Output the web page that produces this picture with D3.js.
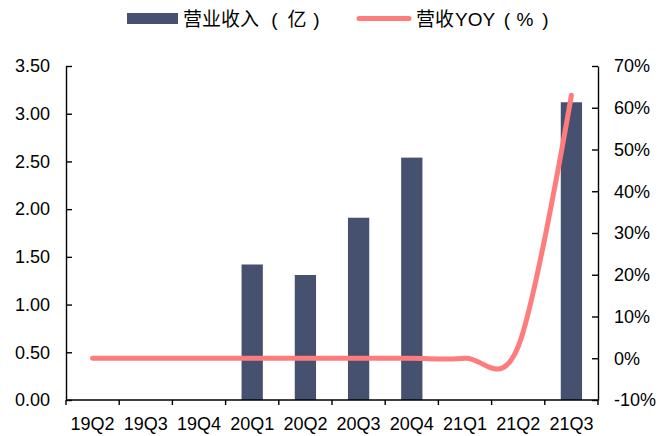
<!DOCTYPE html>
<html>
<head>
<meta charset="utf-8">
<script src="https://cdn.jsdelivr.net/npm/d3@7/dist/d3.min.js"></script>
<style>
  html, body { margin: 0; padding: 0; background: #fff; }
  svg { display: block; }
</style>
</head>
<body>
<svg id="chart" width="665" height="436"></svg>
<script>
// Quarterly revenue (100 million) and YoY growth (%)
const quarters = ["19Q2", "19Q3", "19Q4", "20Q1", "20Q2", "20Q3", "20Q4", "21Q1", "21Q2", "21Q3"];
const revenue = [null, null, null, 1.42, 1.31, 1.91, 2.54, null, null, 3.12];
const yoy = [0, 0, 0, 0, 0, 0, 0, 0, 2.8, 63];
const leftTicks = [0, 0.5, 1, 1.5, 2, 2.5, 3, 3.5];
const rightTicks = [-10, 0, 10, 20, 30, 40, 50, 60, 70];

const barColor = "#465170";
const lineColor = "#FF7C7C";
const fontFamily = '"Liberation Sans", Arial, sans-serif';
const cjkFont = '"Noto Sans CJK SC", "Liberation Sans", sans-serif';

const svg = d3.select("#chart");
const margin = { left: 66, right: 598, top: 66, bottom: 400 };

const x = d3.scaleBand().domain(quarters).range([margin.left, margin.right]).padding(0);
const yL = d3.scaleLinear().domain([0, 3.5]).range([margin.bottom, margin.top]);
const yR = d3.scaleLinear().domain([-10, 70]).range([margin.bottom, margin.top]);

// Bars
const barW = x.bandwidth() * 0.4;
svg.append("g").selectAll("rect")
  .data(quarters.map((q, i) => ({ q, v: revenue[i] })).filter(d => d.v != null))
  .join("rect")
  .attr("x", d => x(d.q) + (x.bandwidth() - barW) / 2)
  .attr("y", d => yL(d.v))
  .attr("width", barW)
  .attr("height", d => yL(0) - yL(d.v))
  .attr("fill", barColor);

// Axes
const axisStyle = g => {
  g.selectAll("path.domain").attr("stroke", "#000").attr("stroke-width", 1.4);
  g.selectAll(".tick line").attr("stroke", "#000").attr("stroke-width", 1.4);
  g.selectAll(".tick text").attr("fill", "#000").attr("font-size", 18).attr("font-family", fontFamily);
};

svg.append("g")
  .attr("transform", `translate(${margin.left},0)`)
  .call(d3.axisLeft(yL).tickValues(leftTicks).tickFormat(d3.format(".2f")).tickSizeInner(-6).tickSizeOuter(0).tickPadding(16))
  .call(axisStyle);

svg.append("g")
  .attr("transform", `translate(${margin.right},0)`)
  .call(d3.axisRight(yR).tickValues(rightTicks).tickFormat(d => d + "%").tickSizeInner(-6).tickSizeOuter(0).tickPadding(16))
  .call(axisStyle);

// Category axis with ticks on band boundaries
const xAxis = svg.append("g").attr("transform", `translate(0,${margin.bottom})`);
xAxis.append("line")
  .attr("x1", margin.left).attr("x2", margin.right)
  .attr("stroke", "#000").attr("stroke-width", 1.4);
const bounds = quarters.map(q => x(q)).concat([x(quarters[quarters.length - 1]) + x.bandwidth()]);
xAxis.selectAll("line.b").data(bounds).join("line").attr("class", "b")
  .attr("x1", d => d).attr("x2", d => d).attr("y1", 0).attr("y2", 5)
  .attr("stroke", "#000").attr("stroke-width", 1.4);
xAxis.selectAll("text").data(quarters).join("text")
  .attr("x", d => x(d) + x.bandwidth() / 2)
  .attr("y", 30)
  .attr("text-anchor", "middle")
  .attr("font-size", 18)
  .attr("font-family", fontFamily)
  .attr("fill", "#000")
  .text(d => d);

// YoY line
const line = d3.line()
  .x((d, i) => x(quarters[i]) + x.bandwidth() / 2)
  .y(d => yR(d))
  .curve(d3.curveCardinal.tension(0));
svg.append("path")
  .datum(yoy)
  .attr("d", line)
  .attr("fill", "none")
  .attr("stroke", lineColor)
  .attr("stroke-width", 5)
  .attr("stroke-linecap", "round")
  .attr("stroke-linejoin", "round");

// Legend: each label is drawn as pieces so the bracketed units get wide spacing
const legend = svg.append("g").attr("fill", "#000").attr("font-size", 19);
const piece = (px, txt, font, anchor) => legend.append("text")
  .attr("x", px).attr("y", 26).attr("font-family", font)
  .attr("text-anchor", anchor || "start").text(txt);

legend.append("rect").attr("x", 127).attr("y", 13).attr("width", 51).attr("height", 11).attr("fill", barColor);
piece(183, "营业收入", cjkFont);
piece(274.5, "(", fontFamily, "middle");
piece(297, "亿", cjkFont, "middle");
piece(316.5, ")", fontFamily, "middle");

legend.append("line").attr("x1", 359).attr("x2", 409).attr("y1", 18.5).attr("y2", 18.5)
  .attr("stroke", lineColor).attr("stroke-width", 5).attr("stroke-linecap", "round");
piece(416, "营收", cjkFont);
piece(455, "YOY", fontFamily);
piece(507, "(", fontFamily, "middle");
piece(525, "%", fontFamily, "middle");
piece(545.5, ")", fontFamily, "middle");
</script>
</body>
</html>
